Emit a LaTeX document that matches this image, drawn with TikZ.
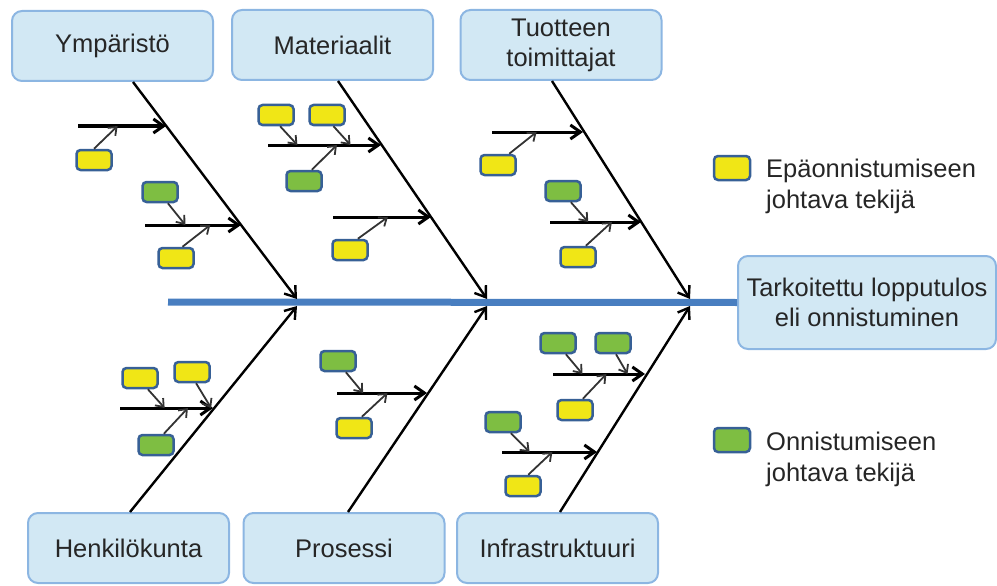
\documentclass[tikz,border=0pt]{standalone}
\usepackage{fontspec}
\setmainfont{Liberation Sans}
\usetikzlibrary{arrows.meta,calc,positioning}

\definecolor{catfill}{RGB}{210,232,244}
\definecolor{catline}{RGB}{140,182,226}
\definecolor{spineblue}{RGB}{72,126,192}
\definecolor{badfill}{RGB}{240,230,22}
\definecolor{goodfill}{RGB}{126,190,66}
\definecolor{tagline}{RGB}{55,96,150}

\tikzset{
  cat/.style={draw=catline, fill=catfill, line width=2pt, rounded corners=10pt,
    minimum width=201pt, minimum height=70pt, align=center, text=black!85,
    font=\fontsize{25.5}{30}\selectfont},
  tag/.style={draw=tagline, line width=2.5pt, rounded corners=4pt,
    minimum width=35pt, minimum height=20pt, inner sep=0pt},
  bad/.style={tag, fill=badfill},
  good/.style={tag, fill=goodfill},
  bone/.style={line width=2.4pt, -{Straight Barb[length=10pt,width=14pt]}},
  twig/.style={line width=3pt, -{Straight Barb[length=10pt,width=14pt]}},
  link/.style={line width=1.8pt, black!80, -{Straight Barb[length=7pt,width=11pt]}},
  legtext/.style={align=left, inner sep=0pt, text=black!85,
    font=\fontsize{25.5}{31}\selectfont},
}

\begin{document}
\begin{tikzpicture}[x=1pt,y=-1pt]
\useasboundingbox (0,0) rectangle (997,586);

% categories and result
\node[cat] (ymp) at (112.5,46) {Ympäristö};
\node[cat] (mat) at (332.5,45) {Materiaalit};
\node[cat] (tuo) at (561,45) {Tuotteen\\toimittajat};
\node[cat] (hen) at (128.5,548) {Henkilökunta};
\node[cat] (pro) at (344,548) {Prosessi};
\node[cat] (inf) at (557.5,548) {Infrastruktuuri};
\node[cat, minimum width=258pt, minimum height=93pt] (res) at (867,302.5)
  {Tarkoitettu lopputulos\\eli onnistuminen};

% spine
\coordinate (tail) at (168,302);
\draw[spineblue, line width=7pt] (tail) -- (res.west);

% bone heads on the spine
\coordinate (h1) at (297,299);
\coordinate (h2) at (487,299);
\coordinate (h3) at (690,299);
\coordinate (k1) at (297,306);
\coordinate (k2) at (487,306);
\coordinate (k3) at (690,306);

\draw[bone] ([xshift=20.5pt]ymp.south) -- (h1);
\draw[bone] ([xshift=5.5pt]mat.south) -- (h2);
\draw[bone] ([xshift=-9pt]tuo.south) -- (h3);
\draw[bone] ([xshift=1.5pt]hen.north) -- (k1);
\draw[bone] ([xshift=4pt]pro.north) -- (k2);
\draw[bone] ([xshift=2.5pt]inf.north) -- (k3);

% twigs
\coordinate (y1s) at (78,126);   \coordinate (y1e) at (166,126);
\coordinate (y2s) at (145,225);  \coordinate (y2e) at (241,225);
\coordinate (m1s) at (268,145);  \coordinate (m1e) at (381,145);
\coordinate (m2s) at (333,217);  \coordinate (m2e) at (431,217);
\coordinate (t1s) at (492,132);  \coordinate (t1e) at (583,132);
\coordinate (t2s) at (550,222);  \coordinate (t2e) at (641,222);
\coordinate (p1s) at (120,408);  \coordinate (p1e) at (213,408);
\coordinate (r1s) at (337,393);  \coordinate (r1e) at (427,393);
\coordinate (i1s) at (553,374);  \coordinate (i1e) at (645,374);
\coordinate (i2s) at (502,452);  \coordinate (i2e) at (597,452);

\foreach \t in {y1,y2,m1,m2,t1,t2,p1,r1,i1,i2}
  \draw[twig] (\t s) -- (\t e);

% factors
\node[bad]  (ya1) at (94,160) {};
\node[good] (ga1) at (160,192) {};
\node[bad]  (ya2) at (176,258) {};
\node[bad]  (yb1) at (276,115) {};
\node[bad]  (yb2) at (327,115) {};
\node[good] (gb1) at (304,181) {};
\node[bad]  (yb3) at (350,250) {};
\node[bad]  (yc1) at (498,165) {};
\node[good] (gc1) at (563,191) {};
\node[bad]  (yc2) at (578,257) {};
\node[bad]  (yd1) at (140,378) {};
\node[bad]  (yd2) at (192,372) {};
\node[good] (gd1) at (156,445) {};
\node[good] (ge1) at (338,361) {};
\node[bad]  (ye1) at (354,428) {};
\node[good] (gf1) at (558,343) {};
\node[good] (gf2) at (613,343) {};
\node[bad]  (yf1) at (575,410) {};
\node[good] (gf3) at (503,422) {};
\node[bad]  (yf2) at (523,486) {};

% links from factors to twigs
\draw[link] (ya1.north) -- ($(y1s)!0.45!(y1e)$);
\draw[link] (ga1.-55) -- ($(y2s)!0.42!(y2e)$);
\draw[link] (ya2.60) -- ($(y2s)!0.68!(y2e)$);
\draw[link] (yb1.-70) -- ($(m1s)!0.26!(m1e)$);
\draw[link] (yb2.-60) -- ($(m1s)!0.73!(m1e)$);
\draw[link] (gb1.55) -- ($(m1s)!0.61!(m1e)$);
\draw[link] (yb3.55) -- ($(m2s)!0.56!(m2e)$);
\draw[link] (yc1.45) -- ($(t1s)!0.49!(t1e)$);
\draw[link] (gc1.-55) -- ($(t2s)!0.42!(t2e)$);
\draw[link] (yc2.55) -- ($(t2s)!0.68!(t2e)$);
\draw[link] (yd1.-55) -- ($(p1s)!0.48!(p1e)$);
\draw[link] (yd2.-70) -- ($(p1s)!0.98!(p1e)$);
\draw[link] (gd1.55) -- ($(p1s)!0.73!(p1e)$);
\draw[link] (ge1.-55) -- ($(r1s)!0.29!(r1e)$);
\draw[link] (ye1.55) -- ($(r1s)!0.56!(r1e)$);
\draw[link] (gf1.-55) -- ($(i1s)!0.32!(i1e)$);
\draw[link] (gf2.-75) -- ($(i1s)!0.81!(i1e)$);
\draw[link] (yf1.55) -- ($(i1s)!0.58!(i1e)$);
\draw[link] (gf3.-55) -- ($(i2s)!0.29!(i2e)$);
\draw[link] (yf2.65) -- ($(i2s)!0.53!(i2e)$);

% legend
\node[bad, minimum width=36pt, minimum height=24pt] (lgbad) at (732,168) {};
\node[legtext, anchor=west] (lgbadt) at (766,186) {Epäonnistumiseen\\johtava tekijä};
\node[good, minimum width=36pt, minimum height=24pt] (lggood) at (732,440) {};
\node[legtext, anchor=west] (lggoodt) at (766,459) {Onnistumiseen\\johtava tekijä};
\end{tikzpicture}
\end{document}
